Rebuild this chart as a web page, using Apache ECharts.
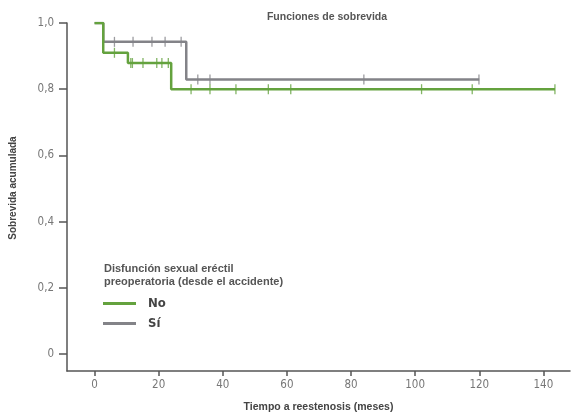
<!DOCTYPE html>
<html>
<head>
<meta charset="utf-8">
<script src="https://cdn.jsdelivr.net/npm/echarts@6/dist/echarts.min.js"></script>
<style>
  html, body { margin: 0; padding: 0; background: #fff; }
  #chart { width: 571px; height: 418px; }
</style>
</head>
<body>
<div id="chart"></div>
<script>
// curva de supervivencia (Kaplan-Meier), puntos de cambio
var noTimes = [0, 2.7, 10.4, 23.9, 143.6];
var noSurv = [1.0, 0.91, 0.879, 0.80, 0.80];
var noCensor = [6.2, 11.3, 11.8, 15.1, 19.4, 21.0, 23.0, 30.1, 36.0, 44.1, 54.2, 61.2, 102.0, 117.8, 143.6];

var siTimes = [0, 2.7, 28.6, 120.0];
var siSurv = [1.0, 0.943, 0.829, 0.829];
var siCensor = [6.2, 12.0, 17.9, 22.0, 27.0, 32.2, 36.0, 84.0, 119.9];

var xTicks = [0, 20, 40, 60, 80, 100, 120, 140];
var yTicks = [0, 0.2, 0.4, 0.6, 0.8, 1.0];

var green = '#64a23e';
var grey = '#838388';
var narrow = "'DejaVu Sans Condensed', 'Liberation Sans Narrow', sans-serif";
var sans = "'Liberation Sans', Arial, sans-serif";

function pairs(t, s) {
  return t.map(function (v, i) { return [v, s[i]]; });
}
// valor de la curva en el instante de cada censura
function censorPts(cens, t, s) {
  return cens.map(function (c) {
    var val = s[0];
    for (var i = 0; i < t.length; i++) { if (t[i] <= c) val = s[i]; }
    return [c, val];
  });
}

var chart = echarts.init(document.getElementById('chart'));
var option = {
  backgroundColor: '#fff',
  animation: false,
  title: [{
    text: 'Funciones de sobrevida',
    left: 322, top: 7, textAlign: 'center',
    textStyle: { fontFamily: sans, fontSize: 10.5, fontWeight: 'bold', color: '#555' }
  }, {
    text: 'Disfunción sexual eréctil\npreoperatoria (desde el accidente)',
    left: 99, top: 257,
    textStyle: { fontFamily: sans, fontSize: 11, fontWeight: 'bold', color: '#555', lineHeight: 13 }
  }],
  legend: {
    data: ['No', 'Sí'],
    orient: 'vertical',
    left: 98, top: 292,
    icon: 'rect',
    itemWidth: 33, itemHeight: 3,
    itemGap: 7,
    textStyle: { fontFamily: narrow, fontSize: 13, fontWeight: 'bold', color: '#444', padding: [0, 0, 0, 7] }
  },
  grid: { left: 67, right: 1, top: 23, bottom: 47 },
  xAxis: {
    type: 'value',
    min: -8.6, max: 148.3,
    name: 'Tiempo a reestenosis (meses)',
    nameLocation: 'middle', nameGap: 31,
    nameTextStyle: { fontFamily: sans, fontSize: 10.5, fontWeight: 'bold', color: '#444' },
    axisLine: { show: true, onZero: false, lineStyle: { color: '#555', width: 1.5 } },
    axisTick: { show: true, length: 5, customValues: xTicks, lineStyle: { color: '#555', width: 1.5 } },
    axisLabel: { customValues: xTicks, fontFamily: narrow, fontSize: 11.5, color: '#777', margin: 8 },
    splitLine: { show: false }
  },
  yAxis: {
    type: 'value',
    min: -0.0513, max: 1.0,
    name: 'Sobrevida acumulada',
    nameLocation: 'middle', nameGap: 49,
    nameTextStyle: { fontFamily: sans, fontSize: 10, fontWeight: 'bold', color: '#444', padding: [0, 0, 0, 18] },
    axisLine: { show: true, onZero: false, lineStyle: { color: '#555', width: 1.5 } },
    axisTick: { show: true, length: 8, customValues: yTicks, lineStyle: { color: '#555', width: 1.5 } },
    axisLabel: {
      customValues: yTicks, fontFamily: narrow, fontSize: 11.5, color: '#777', margin: 13,
      formatter: function (v) { return v === 0 ? '0' : v.toFixed(1).replace('.', ','); }
    },
    splitLine: { show: false }
  },
  series: [{
    name: 'Sí', type: 'line', step: 'end', symbol: 'none',
    lineStyle: { color: grey, width: 2.5 }, itemStyle: { color: grey },
    data: pairs(siTimes, siSurv), z: 2
  }, {
    name: 'No', type: 'line', step: 'end', symbol: 'none',
    lineStyle: { color: green, width: 2.5 }, itemStyle: { color: green },
    data: pairs(noTimes, noSurv), z: 3
  }, {
    name: 'Sí censura', type: 'scatter', symbol: 'rect', symbolSize: [1.3, 10],
    itemStyle: { color: grey }, data: censorPts(siCensor, siTimes, siSurv), z: 4
  }, {
    name: 'No censura', type: 'scatter', symbol: 'rect', symbolSize: [1.3, 10],
    itemStyle: { color: green }, data: censorPts(noCensor, noTimes, noSurv), z: 5
  }]
};
chart.setOption(option);
</script>
</body>
</html>
